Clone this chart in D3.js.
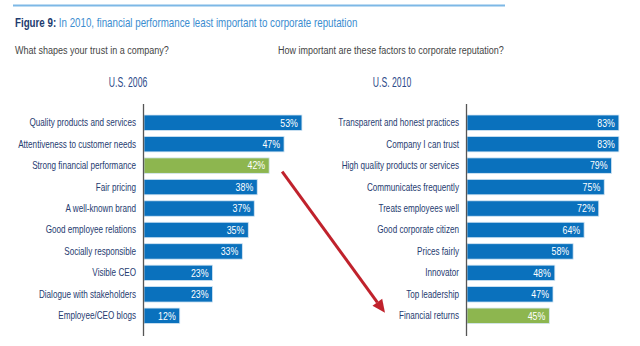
<!DOCTYPE html>
<html>
<head>
<meta charset="utf-8">
<script src="https://cdn.jsdelivr.net/npm/d3@7"></script>
<style>
  body { margin: 0; background: #fff; }
  svg { display: block; }
  text { font-family: "Liberation Sans Narrow", "Liberation Sans", sans-serif; }
</style>
</head>
<body>
<div id="chart"></div>
<script>
// survey data
var leftTitle = 'U.S. 2006';
var leftLabels = ['Quality products and services', 'Attentiveness to customer needs', 'Strong financial performance',
  'Fair pricing', 'A well-known brand', 'Good employee relations', 'Socially responsible',
  'Visible CEO', 'Dialogue with stakeholders', 'Employee/CEO blogs'];
var leftValues = [53, 47, 42, 38, 37, 35, 33, 23, 23, 12];

var rightTitle = 'U.S. 2010';
var rightLabels = ['Transparent and honest practices', 'Company I can trust', 'High quality products or services',
  'Communicates frequently', 'Treats employees well', 'Good corporate citizen', 'Prices fairly',
  'Innovator', 'Top leadership', 'Financial returns'];
var rightValues = [83, 83, 79, 75, 72, 64, 58, 48, 47, 45];

// which bar is highlighted in each panel
var leftHighlight = 'Strong financial performance';
var rightHighlight = 'Financial returns';

var width = 640, height = 346;
var blue = '#0a71bd', green = '#8db64f', navy = '#263b70';

var svg = d3.select('#chart').append('svg')
  .attr('width', width)
  .attr('height', height);

// top rule + heading
svg.append('line')
  .attr('x1', 13).attr('x2', 505)
  .attr('y1', 5.5).attr('y2', 5.5)
  .attr('stroke', '#7db8e6').attr('stroke-width', 2);

var title = svg.append('text')
  .attr('transform', 'translate(15,27) scale(0.75,1)')
  .attr('font-size', '13px');
title.append('tspan').attr('fill', '#1d3b6f').attr('font-weight', 'bold').text('Figure 9: ');
title.append('tspan').attr('fill', '#3b8dd0').text('In 2010, financial performance least important to corporate reputation');

svg.append('text')
  .attr('transform', 'translate(15,54) scale(0.82,1)')
  .attr('font-size', '11px').attr('fill', '#444')
  .text('What shapes your trust in a company?');
svg.append('text')
  .attr('transform', 'translate(278,54) scale(0.82,1)')
  .attr('font-size', '11px').attr('fill', '#444')
  .text('How important are these factors to corporate reputation?');

var yBand = d3.scaleBand()
  .range([112, 326.5])
  .paddingInner(0.28)
  .paddingOuter(0.14);

function panel(cfg) {
  var y = yBand.copy().domain(cfg.labels);
  var x = d3.scaleLinear().domain([0, 100]).range([cfg.x0, cfg.x0 + cfg.span]);
  var data = cfg.labels.map(function(d, i) { return { label: d, value: cfg.values[i] }; });
  var g = svg.append('g');

  g.append('text')
    .attr('transform', 'translate(' + cfg.titleX + ',87) scale(0.62,1)')
    .attr('text-anchor', 'middle')
    .attr('font-size', '14px')
    .attr('fill', '#2e4c8a')
    .text(cfg.title);

  g.selectAll('rect.bar').data(data).enter().append('rect')
    .attr('class', 'bar')
    .attr('x', x(0))
    .attr('y', function(d) { return y(d.label); })
    .attr('width', function(d) { return x(d.value) - x(0); })
    .attr('height', y.bandwidth())
    .attr('fill', function(d) { return d.label == cfg.highlight ? green : blue; })
    .attr('stroke', '#d4e6f4')
    .attr('stroke-width', 0.8);

  // category labels, right aligned against the axis
  g.selectAll('text.cat').data(data).enter().append('text')
    .attr('class', 'cat')
    .attr('transform', function(d) {
      return 'translate(' + (x(0) - 8) + ',' + (y(d.label) + y.bandwidth() / 2 + 3.5) + ') scale(0.775,1)';
    })
    .attr('text-anchor', 'end')
    .attr('font-size', '10.5px')
    .attr('fill', navy)
    .text(function(d) { return d.label; });

  // values inside the bars
  g.selectAll('text.val').data(data).enter().append('text')
    .attr('class', 'val')
    .attr('transform', function(d) {
      return 'translate(' + (x(d.value) - 4) + ',' + (y(d.label) + y.bandwidth() / 2 + 3.8) + ') scale(0.84,1)';
    })
    .attr('text-anchor', 'end')
    .attr('font-size', '10.5px')
    .attr('fill', '#fff')
    .text(function(d) { return d.value + '%'; });

  g.append('line')
    .attr('x1', x(0) - 0.5).attr('x2', x(0) - 0.5)
    .attr('y1', 104).attr('y2', 336)
    .attr('stroke', '#555').attr('stroke-width', 1.3);

  return { x: x, y: y };
}

var L = panel({ title: leftTitle, labels: leftLabels, values: leftValues, highlight: leftHighlight,
  x0: 144, span: 298, titleX: 128 });
var R = panel({ title: rightTitle, labels: rightLabels, values: rightValues, highlight: rightHighlight,
  x0: 467, span: 183, titleX: 392 });

// red arrow from the 2006 finance bar to the 2010 one
var x1 = L.x(leftValues[leftLabels.indexOf(leftHighlight)]) + 13;
var y1 = L.y(leftHighlight) + L.y.bandwidth() / 2 + 6;
var x2 = R.x(0) - 82;
var y2 = R.y(rightHighlight) + R.y.bandwidth() / 2 - 3;
var ang = Math.atan2(y2 - y1, x2 - x1);
var headLen = 13, headW = 6;
var bx = x2 - headLen * Math.cos(ang), by = y2 - headLen * Math.sin(ang);

svg.append('line')
  .attr('x1', x1).attr('y1', y1)
  .attr('x2', bx).attr('y2', by)
  .attr('stroke', '#c0222c').attr('stroke-width', 3);
svg.append('path')
  .attr('d', 'M' + x2 + ',' + y2 +
    'L' + (bx + headW * Math.sin(ang)) + ',' + (by - headW * Math.cos(ang)) +
    'L' + (bx - headW * Math.sin(ang)) + ',' + (by + headW * Math.cos(ang)) + 'Z')
  .attr('fill', '#c0222c');
</script>
</body>
</html>
